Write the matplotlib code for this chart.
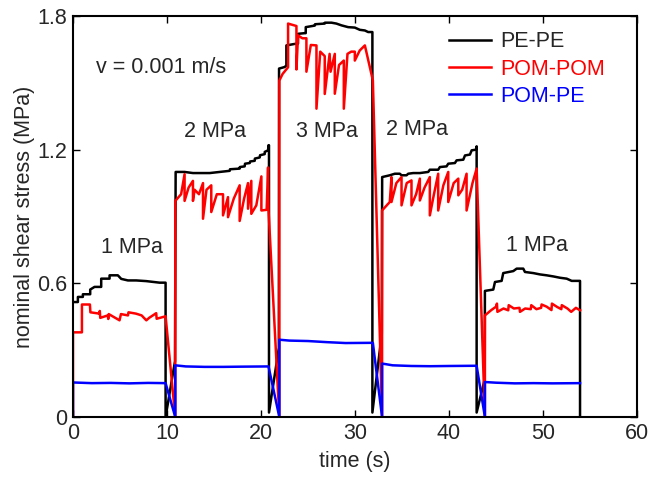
import matplotlib
matplotlib.use("Agg")
import matplotlib.pyplot as plt

plt.rcParams['font.family'] = ['Liberation Sans', 'DejaVu Sans']

# PE-PE (black)
t_pe = [0, 0.52, 0.52, 1.05, 1.05, 1.83, 1.83, 2.29, 3.0, 3.0, 3.89, 3.89, 4.77, 5.13, 5.84, 6.73, 7.79, 9.21, 9.85, 9.85,
        10.85, 10.92, 11.87, 12.76, 14.54, 16.67, 16.7, 17.73, 17.75, 18.26, 18.3, 18.8, 18.85, 19.33, 19.35, 19.86, 19.9,
        20.39, 20.4, 20.75, 20.8, 20.85, 20.85,
        21.9, 21.92, 22.52, 22.7, 22.7, 23.77, 23.94, 23.94, 24.65, 24.76, 24.76, 25.72, 25.75, 26.78, 26.8, 27.5, 28.02,
        28.56, 29.27, 29.98, 30.51, 31.05, 31.4, 31.85, 31.85,
        32.85, 32.89, 33.7, 34.24, 34.77, 34.95, 35.48, 35.66, 36.19, 36.9, 37.79, 37.96, 38.85, 39.03, 39.74, 39.92,
        40.63, 40.81, 41.52, 41.7, 42.23, 42.41, 42.87, 42.94, 42.94,
        43.8, 43.82, 44.71, 44.89, 45.6, 45.77, 46.84, 47.2, 47.9, 48.08, 48.97, 49.68, 50.39, 51.1, 51.81, 52.52, 53.05,
        53.94, 53.94]
v_pe = [0.516, 0.516, 0.539, 0.539, 0.551, 0.551, 0.572, 0.584, 0.584, 0.621, 0.621, 0.636, 0.636, 0.62, 0.613, 0.613,
        0.61, 0.603, 0.603, 0.0,
        0.25, 1.10, 1.10, 1.095, 1.095, 1.105, 1.112, 1.115, 1.122, 1.125, 1.137, 1.14, 1.147, 1.15, 1.16, 1.165, 1.175,
        1.18, 1.19, 1.197, 1.22, 1.22, 0.02,
        0.31, 1.564, 1.571, 1.578, 1.668, 1.676, 1.676, 1.72, 1.723, 1.723, 1.75, 1.757, 1.763, 1.766, 1.77, 1.77, 1.766,
        1.758, 1.75, 1.748, 1.738, 1.735, 1.728, 1.728, 0.02,
        0.375, 1.077, 1.085, 1.092, 1.092, 1.085, 1.085, 1.092, 1.095, 1.095, 1.1, 1.11, 1.11, 1.122, 1.125, 1.137,
        1.14, 1.152, 1.155, 1.174, 1.178, 1.197, 1.2, 1.215, 0.02,
        0.17, 0.566, 0.572, 0.606, 0.611, 0.646, 0.655, 0.666, 0.666, 0.651, 0.646, 0.64, 0.636, 0.631, 0.625, 0.621,
        0.611, 0.611, 0.0]

# POM-POM (red)
t_pom = [0, 0, 0.95, 0.95, 1.8, 1.85, 2.8, 2.85, 2.9, 3.7, 3.75, 3.8, 4.95, 5.1, 5.85, 5.9, 6.7, 7.3, 7.8, 8.1, 8.85,
         8.9, 9.85,
         10.88, 10.88, 11.5, 11.87, 11.87, 12.3, 12.76, 12.76, 12.94, 13.4, 13.83, 13.83, 14.2, 14.71, 14.71, 15.3,
         15.96, 15.96, 16.49, 16.49, 17.1, 17.73, 17.73, 18.2, 18.62, 18.62, 18.97, 18.97, 19.5, 20.04, 20.04, 20.6,
         20.75, 20.8,
         21.95, 21.95, 22.3, 22.88, 22.88, 23.77, 23.77, 23.94, 24.4, 24.83, 24.83, 25.3, 25.9, 25.9, 26.3, 26.78,
         26.78, 27.3, 27.4, 27.85, 27.85, 28.3, 28.81, 28.81, 29.2, 29.6, 29.98, 29.98, 30.5, 31.05, 31.9,
         32.88, 32.88, 33.7, 33.88, 33.88, 34.4, 34.95, 34.95, 35.5, 36.01, 36.01, 36.5, 36.9, 36.9, 37.4, 37.96,
         37.96, 38.4, 38.85, 38.85, 39.4, 39.92, 39.92, 40.5, 40.99, 40.99, 41.4, 41.87, 41.87, 42.5, 42.94,
         43.82, 43.82, 44.5, 45.0, 45.1, 45.15, 45.8, 46.3, 46.35, 46.9, 47.5, 47.55, 48.1, 48.7, 48.75, 49.3, 49.8,
         49.85, 50.4, 50.9, 50.95, 51.5, 51.95, 52.0, 52.6, 53.0, 53.5, 53.94]
v_pom = [0, 0.38, 0.38, 0.505, 0.505, 0.47, 0.464, 0.476, 0.445, 0.456, 0.44, 0.462, 0.434, 0.462, 0.456, 0.47, 0.464,
         0.456, 0.434, 0.445, 0.466, 0.441, 0.452,
         0.0, 0.97, 1.0, 1.09, 0.97, 1.03, 1.06, 0.97, 1.02, 1.0, 1.05, 0.89, 1.02, 1.04, 0.92, 1.0,
         1.0, 0.905, 0.987, 0.897, 0.98, 1.04, 0.88, 0.98, 1.05, 0.935, 1.06, 0.912, 0.95, 1.08, 0.927, 0.93,
         1.12, 0.93,
         0.0, 1.51, 1.54, 1.57, 1.766, 1.755, 1.56, 1.713, 1.70, 1.70, 1.55, 1.67, 1.668, 1.384, 1.64, 1.62,
         1.45, 1.63, 1.55, 1.63, 1.451, 1.58, 1.6, 1.384, 1.63, 1.64, 1.64, 1.6, 1.645, 1.668, 1.511,
         0.0, 0.927, 0.965, 1.077, 0.965, 1.05, 1.077, 0.95, 1.05, 1.062, 0.95, 1.0, 1.07, 0.972, 1.03, 1.077,
         0.905, 1.0, 1.092, 0.927, 1.04, 1.1, 0.965, 1.05, 1.07, 0.995, 1.02, 1.092, 0.927, 1.05, 1.115,
         0.0, 0.456, 0.48, 0.495, 0.509, 0.472, 0.487, 0.479, 0.502, 0.487, 0.49, 0.472, 0.487, 0.484, 0.502, 0.484,
         0.49, 0.505, 0.495, 0.48, 0.509, 0.494, 0.484, 0.502, 0.487, 0.472, 0.49, 0.479]

# POM-PE (blue)
t_pompe = [0, 0, 2, 4, 6, 8, 9.85, 10.88, 10.88, 12, 14, 16, 18, 20.8, 21.95, 21.95, 23, 25, 27, 29, 31.9,
           32.88, 32.88, 34, 36, 38, 40, 42.94, 43.82, 43.82, 45, 47, 49, 51, 53.94]
v_pompe = [0, 0.155, 0.152, 0.153, 0.151, 0.153, 0.152, 0.0, 0.232, 0.227, 0.225, 0.225, 0.226, 0.227, 0.0, 0.347,
           0.343, 0.341, 0.336, 0.332, 0.333, 0.0, 0.24, 0.232, 0.229, 0.228, 0.229, 0.23, 0.0, 0.157, 0.154, 0.151,
           0.152, 0.151, 0.152]

labels = ['PE-PE', 'POM-POM', 'POM-PE']
colors = ['#000000', '#ff0000', '#0000ff']

# pressure annotations (x, y in data units)
press_txt = ['1 MPa', '2 MPa', '3 MPa', '2 MPa', '1 MPa']
press_x = [6.3, 15.1, 27.0, 36.6, 49.4]
press_y = [0.76, 1.28, 1.28, 1.29, 0.77]

txt_col = '#262626'
fs = 15.5

fig = plt.figure(figsize=(6.52, 4.83), dpi=100)
ax = fig.add_axes([73 / 652, 66 / 483, 564 / 652, 401 / 483])

series = [(t_pe, v_pe), (t_pom, v_pom), (t_pompe, v_pompe)]
for (t, v), lab, c in zip(series, labels, colors):
    ax.plot(t, v, color=c, lw=1.8, label=lab)

ax.set_xlim(0, 60)
ax.set_ylim(0, 1.8)
ax.set_xticks([0, 10, 20, 30, 40, 50, 60])
ax.set_yticks([0, 0.6, 1.2, 1.8])
ax.set_yticklabels(['0', '0.6', '1.2', '1.8'])
ax.tick_params(direction='in', length=5, width=1, top=True, right=True,
               labelsize=fs, labelcolor=txt_col, pad=4)
for s in ax.spines.values():
    s.set_linewidth(1.5)

ax.set_xlabel('time (s)', fontsize=fs, color=txt_col, labelpad=5)
ax.set_ylabel('nominal shear stress (MPa)', fontsize=fs, color=txt_col, labelpad=2)

ax.text(2.4, 1.57, 'v = 0.001 m/s', fontsize=fs, color=txt_col, va='center')
for s, x, y in zip(press_txt, press_x, press_y):
    ax.text(x, y, s, fontsize=fs, color=txt_col, ha='center', va='center')

leg = ax.legend(loc='upper right', frameon=False, fontsize=fs, handlelength=1.95,
                handletextpad=0.45, labelspacing=0.3, borderaxespad=0.3,
                bbox_to_anchor=(0.97, 1.0))
for txt, c in zip(leg.get_texts(), [txt_col, '#ff0000', '#0000ff']):
    txt.set_color(c)

fig.savefig('out.png', dpi=100)
